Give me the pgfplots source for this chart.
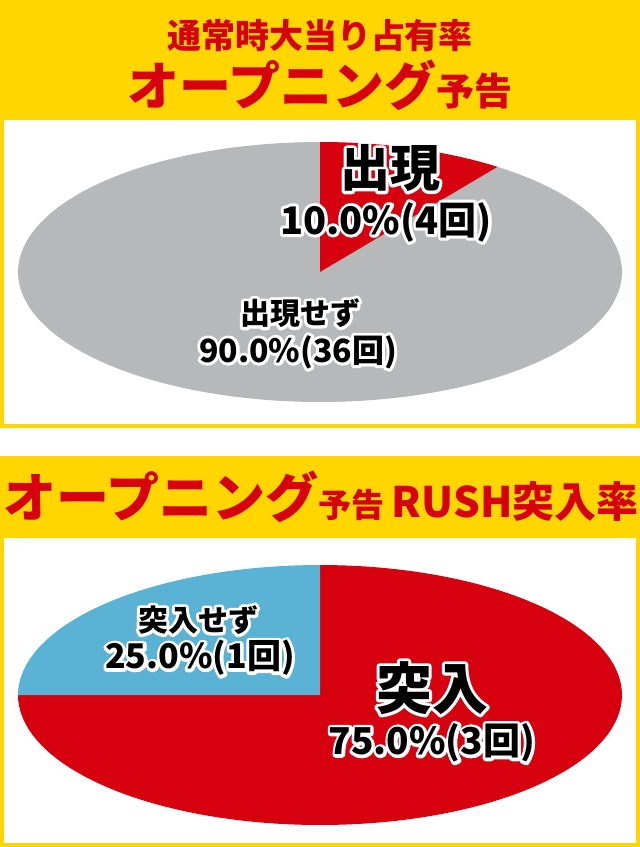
\documentclass[border=0pt]{standalone}
\usepackage{pgfplots}
\pgfplotsset{compat=1.18}
\usepackage{pgfplotstable}
\usepackage{fontspec}
\newfontfamily\cjk{Noto Sans CJK JP}
\definecolor{myyellow}{RGB}{255,214,0}
\definecolor{pieRed}{RGB}{214,0,15}
\definecolor{pieGray}{RGB}{183,184,185}
\definecolor{pieBlue}{RGB}{90,178,212}
\definecolor{titleRed}{RGB}{214,0,15}

\pgfplotstableread{
part value
appear 10
none 90
}\tableA
\pgfplotstableread{
part value
rush 75
norush 25
}\tableB

% white outline drawn by stroking the glyphs, then black text on top
\newcommand\olabel[4]{%
  \node[text=white,font=#3] at (#1,#2) {\special{pdf:literal direct 2 Tr 6 w 1 J 1 j 1 1 1 RG 1 1 1 rg}#4\special{pdf:literal direct 0 Tr}};
  \node[text=black,font=#3] at (#1,#2) {#4};
}

\begin{document}
\begin{tikzpicture}
\useasboundingbox (0,0) rectangle (640pt,-847pt);
\fill[myyellow] (0,0) rectangle (640pt,-428pt);
\fill[white] (4pt,-120pt) rectangle (636pt,-424pt);
\fill[myyellow] (0,-456pt) rectangle (640pt,-847pt);
\fill[white] (4pt,-538pt) rectangle (636pt,-843pt);

\node[text=titleRed,font=\cjk\bfseries\fontsize{34}{34}\selectfont] at (320pt,-36pt) {通常時大当り占有率};
\node[text=titleRed,font=\cjk\bfseries] at (320pt,-85pt) {\fontsize{52}{52}\selectfont オープニング\fontsize{38}{38}\selectfont 予告};
\node[text=titleRed,font=\cjk\bfseries] at (321pt,-497pt) {\fontsize{53}{53}\selectfont オープニング\fontsize{33}{33}\selectfont 予告\ \fontsize{42}{42}\selectfont RUSH突入率};

\pgfplotstablegetelem{0}{value}\of\tableA \let\vA\pgfplotsretval
\pgfmathsetmacro\aA{90-3.6*\vA}
\pgfmathsetmacro\aAend{\aA+360}
\begin{axis}[at={(320pt,-272pt)},anchor=center,width=604pt,height=260pt,scale only axis,hide axis,
  xmin=-1,xmax=1,ymin=-1,ymax=1,clip=false]
\addplot[fill=pieGray,draw=none,domain=90:\aAend,samples=120] ({cos(x)},{sin(x)}) -- (axis cs:0,0) -- cycle;
\addplot[fill=pieRed,draw=none,domain=\aA:90,samples=40] ({cos(x)},{sin(x)}) -- (axis cs:0,0) -- cycle;
\end{axis}

\pgfplotstablegetelem{0}{value}\of\tableB \let\vB\pgfplotsretval
\pgfmathsetmacro\aB{90-3.6*\vB}
\pgfmathsetmacro\aBend{\aB+360}
\begin{axis}[at={(320pt,-695pt)},anchor=center,width=604pt,height=260pt,scale only axis,hide axis,
  xmin=-1,xmax=1,ymin=-1,ymax=1,clip=false]
\addplot[fill=pieRed,draw=none,domain=\aB:90,samples=120] ({cos(x)},{sin(x)}) -- (axis cs:0,0) -- cycle;
\addplot[fill=pieBlue,draw=none,domain=90:\aBend,samples=40] ({cos(x)},{sin(x)}) -- (axis cs:0,0) -- cycle;
\end{axis}

\olabel{390pt}{-168pt}{\cjk\bfseries\fontsize{50}{50}\selectfont}{出現}
\olabel{386pt}{-222pt}{\cjk\bfseries\fontsize{38}{38}\selectfont}{10.0\%(4回)}
\olabel{300pt}{-313pt}{\cjk\bfseries\fontsize{30}{30}\selectfont}{出現せず}
\olabel{298pt}{-352pt}{\cjk\bfseries\fontsize{32}{32}\selectfont}{90.0\%(36回)}
\olabel{198pt}{-620pt}{\cjk\bfseries\fontsize{30}{30}\selectfont}{突入せず}
\olabel{200pt}{-658pt}{\cjk\bfseries\fontsize{34}{34}\selectfont}{25.0\%(1回)}
\olabel{432pt}{-688pt}{\cjk\bfseries\fontsize{56}{56}\selectfont}{突入}
\olabel{432pt}{-743pt}{\cjk\bfseries\fontsize{37}{37}\selectfont}{75.0\%(3回)}
\end{tikzpicture}
\end{document}
